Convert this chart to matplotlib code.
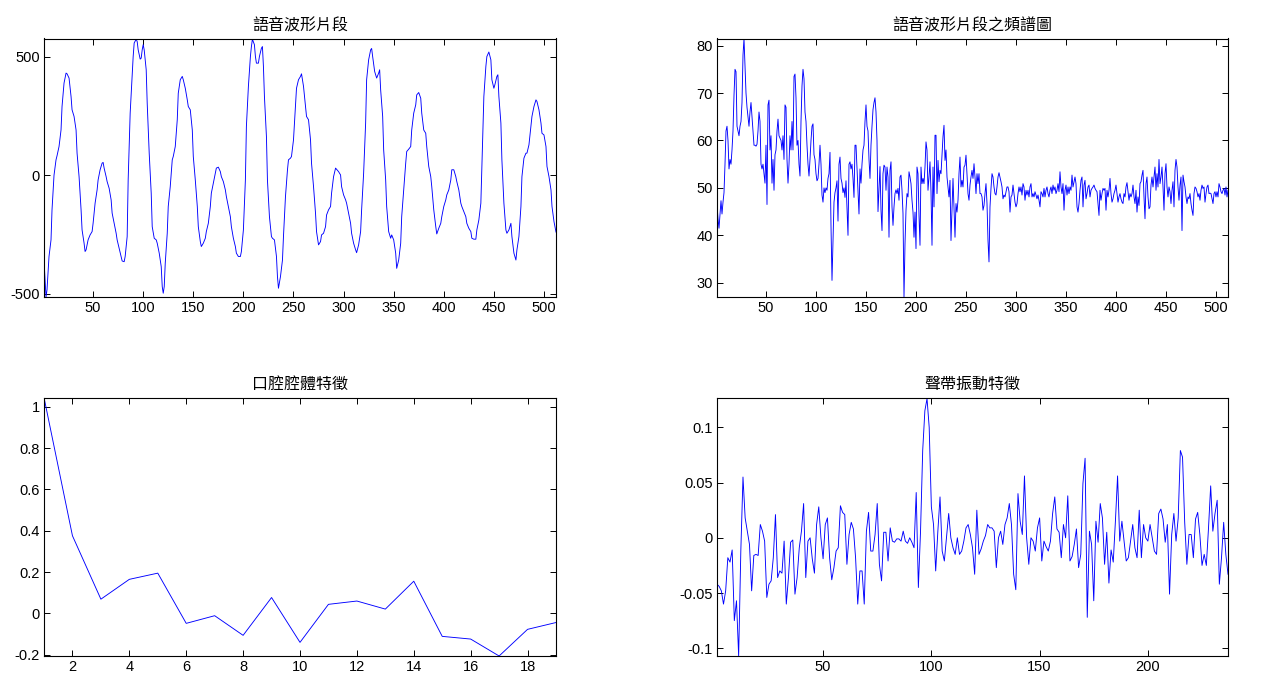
import matplotlib
matplotlib.use('Agg')
import matplotlib.pyplot as plt
from matplotlib.ticker import FuncFormatter

plt.rcParams['font.family'] = ['Liberation Sans', 'Noto Sans CJK TC']

# speech waveform segment (sample index, amplitude) read at turning points
wave_n = [1, 3, 4, 6, 8, 9, 11, 13, 14, 16, 18, 19, 21, 23, 24, 26, 28, 29, 31, 33,
          34, 36, 38, 39, 41, 42, 43, 45, 47, 49, 50, 52, 54, 55, 57, 59, 60, 61, 63, 64,
          66, 68, 69, 71, 73, 74, 76, 78, 79, 81, 82, 84, 85, 87, 89, 90, 91, 93, 94, 95,
          97, 98, 99, 100, 101, 103, 104, 106, 108, 109, 111, 113, 114, 116, 118, 119, 120, 121, 122, 124,
          125, 127, 129, 130, 132, 134, 135, 137, 139, 140, 142, 144, 145, 147, 149, 150, 152, 154, 155, 157,
          158, 160, 162, 163, 165, 167, 168, 170, 172, 173, 175, 177, 178, 180, 182, 183, 185, 187, 188, 190,
          192, 193, 195, 197, 198, 200, 202, 203, 205, 207, 208, 209, 211, 212, 213, 215, 216, 218, 219, 220,
          221, 223, 224, 226, 228, 229, 231, 233, 234, 235, 237, 239, 240, 242, 244, 245, 247, 248, 250, 252,
          253, 255, 257, 258, 260, 262, 263, 265, 267, 268, 270, 272, 273, 275, 277, 278, 280, 282, 283, 285,
          287, 288, 290, 292, 293, 295, 297, 298, 300, 302, 303, 305, 307, 308, 310, 312, 313, 315, 317, 318,
          320, 322, 323, 325, 327, 328, 329, 331, 332, 333, 335, 336, 337, 339, 340, 342, 343, 345, 347, 348,
          350, 352, 353, 355, 357, 358, 360, 362, 363, 365, 367, 368, 370, 372, 373, 375, 377, 378, 380, 382,
          383, 385, 387, 388, 390, 392, 393, 395, 397, 398, 400, 402, 403, 405, 407, 408, 410, 412, 413, 415,
          417, 418, 420, 422, 423, 425, 427, 428, 430, 432, 433, 435, 437, 438, 440, 442, 443, 445, 447, 448,
          450, 451, 453, 454, 455, 457, 458, 460, 462, 463, 465, 467, 468, 470, 472, 473, 475, 477, 478, 480,
          482, 483, 485, 487, 488, 490, 492, 493, 495, 497, 498, 500, 502, 503, 505, 507, 508, 510, 512]
wave_v = [-358, -514, -484, -343, -273, -146, 0, 65, 82, 121, 191, 290, 389, 431, 428, 410, 332, 276, 248, 191,
          93, -6, -146, -231, -287, -322, -315, -273, -252, -238, -203, -118, -62, -20, 23, 51, 54, 30, -6, -27,
          -55, -104, -160, -203, -245, -273, -308, -343, -362, -365, -343, -259, -20, 262, 417, 501, 558, 574, 564, 529,
          490, 494, 529, 551, 529, 445, 304, 93, -76, -217, -266, -273, -287, -329, -386, -470, -498, -470, -372, -245,
          -132, -48, 65, 79, 121, 234, 346, 403, 417, 403, 367, 318, 290, 276, 191, 79, -20, -132, -217, -280,
          -301, -287, -266, -238, -203, -132, -76, -34, 8, 30, 34, 15, -6, -27, -62, -90, -132, -175, -217, -266,
          -301, -329, -343, -343, -322, -231, -20, 206, 375, 501, 543, 574, 551, 501, 473, 473, 501, 536, 543, 459,
          332, 163, -20, -175, -259, -266, -273, -343, -428, -477, -428, -358, -259, -90, 23, 65, 72, 79, 149, 290,
          367, 403, 417, 428, 375, 290, 248, 234, 149, 51, -48, -161, -238, -294, -280, -252, -245, -217, -168, -146,
          -132, -76, -6, 30, 25, 15, 1, -48, -83, -104, -118, -161, -203, -245, -287, -315, -327, -294, -238, -146,
          8, 220, 403, 487, 529, 535, 501, 438, 424, 410, 431, 445, 360, 248, 107, -20, -132, -238, -266, -252,
          -273, -329, -393, -358, -287, -175, -62, 51, 100, 110, 121, 191, 262, 297, 339, 349, 325, 262, 191, 177,
          121, 37, -6, -48, -146, -217, -248, -224, -203, -175, -132, -104, -83, -62, -20, 23, 23, -6, -27, -62,
          -118, -132, -153, -175, -203, -224, -238, -266, -270, -270, -231, -189, -118, 37, 332, 459, 501, 520, 487, 403,
          367, 382, 417, 424, 332, 220, 65, -118, -231, -245, -231, -203, -259, -329, -358, -315, -259, -132, -6, 72,
          93, 93, 128, 206, 248, 290, 318, 311, 276, 220, 177, 170, 121, 37, -6, -62, -132, -196, -240]

# spectrum of the segment (dB), samples 1..512
spec_db = [46.5, 43.5, 41.5, 44.5, 47.3, 44.5, 47, 49, 55, 62, 63, 60, 54, 56, 55, 58, 62, 69.5, 75, 74.5,
           63, 62, 61, 63, 64, 68, 78, 81.5, 76, 70, 67, 65, 63, 66, 68, 65, 62, 59, 59, 58.8,
           59.2, 62, 66, 64, 55, 54, 55, 53, 51, 59, 46.5, 67.5, 68.5, 58, 61, 51, 56, 49.5, 57, 58,
           62, 64.5, 61, 60.5, 60, 58, 61, 56, 67.5, 67, 56, 51, 55, 61, 58, 64, 58, 73.5, 74, 69,
           59, 60, 55, 52.5, 64, 71.5, 75, 73, 66, 64, 59, 55, 52.5, 56, 60, 63, 63.5, 57, 56, 53,
           51.5, 52, 55, 59, 55, 48.5, 47, 50, 49, 50, 49.5, 52, 53, 57.5, 42, 30.5, 38.5, 47, 49, 50,
           51.5, 43, 55, 56.5, 52, 51, 49, 50, 48, 51.5, 46, 40, 55, 55.5, 54, 55, 52, 48, 59, 59,
           54, 49, 44.5, 54, 51, 55, 58, 59, 64, 67.5, 63, 62, 56, 52, 59, 63, 66.5, 68, 69, 66,
           60, 45, 50, 54.5, 45.3, 41, 53, 54.8, 54.4, 49.5, 54.4, 52.3, 39.6, 53.7, 55.5, 46, 42.1, 46, 48.8, 49.6,
           48.8, 49.9, 47.4, 52.3, 52.7, 49.5, 44.6, 27, 38.2, 45.3, 48.8, 48.1, 53.4, 52.3, 50.9, 47.4, 44.9, 39.6, 44.9, 37.2,
           54.4, 53, 44.2, 37.9, 54.4, 50.9, 52, 50.9, 54.4, 59.7, 58, 49.5, 52.3, 55.5, 49.2, 37.9, 54.4, 46, 61.1, 61.1,
           48.8, 55.8, 51.3, 53.7, 53, 56.9, 60.8, 63.2, 55.8, 58, 52.3, 50.2, 48.1, 51.6, 38.9, 45.6, 52, 46, 39.6, 46.7,
           44.9, 47.4, 53, 56.5, 50.2, 51.6, 50.2, 54.4, 54.8, 56.9, 53, 48.8, 47.4, 50.6, 52.3, 53.7, 52, 55.1, 52.3, 48.8,
           53, 50.9, 53, 48.8, 48.8, 48.1, 45.3, 46.3, 48.8, 50.9, 46.7, 38.9, 34.4, 46, 49.9, 53, 52.3, 50.2, 48.8, 48.5,
           50.2, 52.3, 53.2, 52.3, 51.3, 50.2, 47.7, 48.5, 48.1, 49.2, 50.2, 50.2, 49.2, 44.9, 48.1, 48.5, 50.6, 48.8, 47, 46,
           46.7, 48.8, 50.2, 49.2, 50.2, 48.5, 50.9, 50.2, 47.4, 49.5, 48.5, 49.5, 48.1, 50.2, 50.9, 48.1, 48.8, 48.1, 49.2, 48.5,
           47.7, 48.5, 47.4, 46, 49.2, 48.8, 48.1, 49.9, 48.1, 49.5, 50.2, 48.8, 48.1, 49.5, 50.2, 48.8, 50.6, 49.5, 50.2, 48.8,
           49.5, 50.9, 49.2, 53.4, 50.2, 48.8, 50.9, 45.3, 49.5, 50.6, 48.5, 50.2, 48.8, 50.2, 49.5, 52.7, 50.2, 51.3, 52.3, 50.9,
           46, 44.9, 46.7, 49.5, 51.6, 52.3, 46, 50.6, 51.6, 47.7, 48.8, 50.2, 50.6, 48.1, 49.5, 49.9, 50.2, 50.6, 49.9, 49.5,
           49.2, 46.7, 44.2, 49.5, 47.4, 48.8, 49.9, 49.5, 49.9, 45.3, 49.5, 48.1, 49.5, 52, 48.8, 47, 47.7, 48.8, 49.5, 50.6,
           48.8, 47, 48.1, 48.8, 47.7, 47, 46.7, 48.8, 48.1, 50.2, 51.1, 49.2, 47.4, 48.8, 48.1, 48.8, 50.6, 48.1, 46.7, 49.5,
           44.9, 48.1, 46.3, 50.9, 51.3, 52.7, 53.7, 48.1, 43.5, 50.9, 52.3, 48.1, 45.6, 46, 50.6, 52.3, 50.2, 52.3, 54.4, 49.5,
           53, 50.2, 56, 50.9, 52.3, 54.4, 50.2, 45.3, 53, 55.1, 50.2, 48.1, 50.2, 49.2, 46.7, 49.5, 51.3, 46, 53.7, 56,
           54.4, 50.2, 47.4, 50.6, 52.3, 41, 52.7, 51.3, 50.2, 48.1, 46.7, 48.1, 47.7, 48.8, 46.7, 45.3, 44.2, 48.8, 50.2, 49.9,
           49.2, 48.1, 48.8, 47.4, 49.5, 50.6, 49.9, 50.2, 47, 48.8, 50.2, 50.6, 48.8, 48.9, 48.8, 47.7, 46.7, 48.8, 49.2, 48.1,
           49.2, 48.1, 50.9, 50.2, 49.2, 48.8, 49.5, 49.9, 48.5, 50.2, 48.1, 49.5]

# vocal tract feature (cepstrum, low quefrency), samples 1..19
vocal_tract = [1.045, 0.376, 0.069, 0.165, 0.195, -0.048, -0.011, -0.106, 0.077, -0.140,
               0.044, 0.060, 0.021, 0.156, -0.111, -0.124, -0.206, -0.077, -0.044]

# vocal fold excitation feature, samples 1..237
vocal_fold = [-0.042, -0.044, -0.048, -0.060, -0.048, -0.018, -0.022, -0.011, -0.075, -0.057,
              -0.107, -0.012, 0.055, 0.018, 0.006, -0.006, -0.048, -0.016, -0.015, -0.016,
              0.012, 0.006, -0.003, -0.054, -0.042, -0.039, -0.018, 0.021, -0.036, -0.030,
              -0.032, -0.003, -0.060, -0.036, -0.004, -0.002, -0.051, -0.036, -0.009, 0.006,
              0.031, -0.036, -0.003, 0.000, -0.019, -0.032, 0.012, 0.028, 0.000, -0.019,
              0.012, 0.018, -0.018, -0.038, -0.027, -0.012, -0.009, 0.029, 0.023, 0.021,
              -0.024, 0.003, 0.014, 0.008, -0.018, -0.060, -0.030, -0.030, -0.060, 0.006,
              0.023, -0.012, -0.012, 0.003, 0.031, -0.024, -0.039, 0.005, 0.005, -0.021,
              0.009, -0.003, -0.004, -0.001, -0.001, -0.003, 0.006, -0.003, -0.005, 0.000,
              -0.004, -0.009, 0.041, -0.045, 0.006, 0.079, 0.115, 0.126, 0.100, 0.028,
              0.012, -0.030, 0.006, 0.037, -0.012, -0.021, 0.000, 0.022, 0.000, -0.009,
              -0.015, 0.000, -0.015, -0.012, -0.003, 0.009, 0.012, 0.003, -0.009, -0.033,
              0.025, -0.015, -0.010, -0.003, 0.002, 0.012, 0.009, 0.009, 0.006, -0.027,
              0.000, 0.006, -0.006, 0.012, 0.018, 0.031, 0.012, -0.033, -0.047, 0.040,
              0.015, 0.003, 0.056, 0.000, -0.024, 0.000, -0.003, -0.012, 0.009, 0.018,
              -0.021, -0.003, -0.008, -0.012, -0.003, 0.022, 0.037, 0.008, 0.005, -0.018,
              0.012, 0.000, 0.038, -0.021, -0.017, -0.006, 0.008, -0.027, -0.015, 0.049,
              0.072, -0.072, 0.006, -0.006, -0.057, 0.015, -0.004, 0.031, 0.018, -0.024,
              0.005, -0.041, -0.011, -0.022, 0.015, 0.056, -0.003, 0.015, -0.003, -0.021,
              -0.018, -0.003, 0.012, -0.009, -0.018, 0.025, -0.018, 0.012, 0.000, -0.003,
              0.012, 0.000, -0.012, -0.015, 0.022, 0.026, 0.017, -0.004, 0.012, -0.051,
              0.003, 0.022, -0.003, 0.018, 0.079, 0.073, 0.014, -0.024, 0.003, 0.003,
              -0.018, 0.017, 0.023, 0.003, -0.025, -0.015, -0.025, 0.009, 0.047, 0.006,
              0.022, 0.034, -0.042, -0.018, 0.014, -0.015, -0.033]

titles = ['語音波形片段', '語音波形片段之頻譜圖', '口腔腔體特徵', '聲帶振動特徵']

fmt = FuncFormatter(lambda v, p: '%g' % round(v, 6))

fig = plt.figure(figsize=(12.8, 6.78), dpi=100)
ax_wave = fig.add_axes([44 / 1280, 1 - 297 / 678, 512 / 1280, 258.5 / 678])
ax_spec = fig.add_axes([717 / 1280, 1 - 297 / 678, 511 / 1280, 258.5 / 678])
ax_vt = fig.add_axes([44 / 1280, 1 - 656 / 678, 512 / 1280, 258.5 / 678])
ax_vf = fig.add_axes([717 / 1280, 1 - 656 / 678, 511 / 1280, 258.5 / 678])

line_kw = dict(color='blue', lw=0.65)

ax_wave.plot(wave_n, wave_v, **line_kw)
ax_wave.set_xlim(1, 512)
ax_wave.set_ylim(min(wave_v), 577)
ax_wave.set_xticks(range(50, 501, 50))
ax_wave.set_yticks([-500, 0, 500])

ax_spec.plot(range(1, len(spec_db) + 1), spec_db, **line_kw)
ax_spec.set_xlim(1, 512)
ax_spec.set_ylim(min(spec_db), max(spec_db))
ax_spec.set_xticks(range(50, 501, 50))
ax_spec.set_yticks(range(30, 81, 10))

ax_vt.plot(range(1, len(vocal_tract) + 1), vocal_tract, **line_kw)
ax_vt.set_xlim(1, 19)
ax_vt.set_ylim(min(vocal_tract), max(vocal_tract))
ax_vt.set_xticks(range(2, 19, 2))
ax_vt.set_yticks([-0.2, 0, 0.2, 0.4, 0.6, 0.8, 1])

ax_vf.plot(range(1, len(vocal_fold) + 1), vocal_fold, **line_kw)
ax_vf.set_xlim(1, 237)
ax_vf.set_ylim(min(vocal_fold), 0.127)
ax_vf.set_xticks([50, 100, 150, 200])
ax_vf.set_yticks([-0.1, -0.05, 0, 0.05, 0.1])

for ax, t in zip([ax_wave, ax_spec, ax_vt, ax_vf], titles):
    ax.set_title(t, fontsize=11.5, family=['Noto Sans CJK TC', 'DejaVu Sans'], pad=6)
    ax.tick_params(direction='in', top=True, right=True, length=4, width=0.7,
                   labelsize=10.5, pad=3)
    ax.xaxis.set_major_formatter(fmt)
    ax.yaxis.set_major_formatter(fmt)
    for s in ax.spines.values():
        s.set_linewidth(0.8)

fig.savefig('out.png', dpi=100, facecolor='white')
